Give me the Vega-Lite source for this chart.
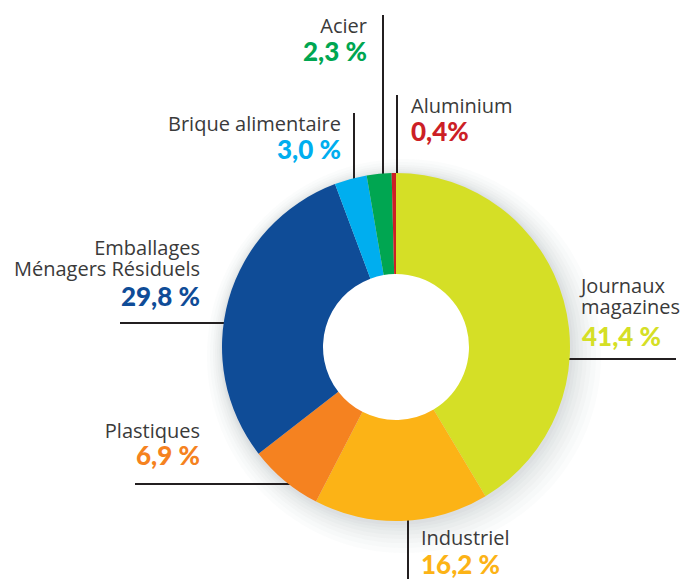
{
  "$schema": "https://vega.github.io/schema/vega-lite/v6.json",
  "width": 689,
  "height": 579,
  "padding": 0,
  "autosize": {"type": "none"},
  "background": "white",
  "config": {"view": {"stroke": null}},
  "datasets": {
    "shares": [
      {"cat": "Journaux magazines", "value": 41.4, "rank": 1},
      {"cat": "Industriel", "value": 16.2, "rank": 2},
      {"cat": "Plastiques", "value": 6.9, "rank": 3},
      {"cat": "Emballages Ménagers Résiduels", "value": 29.8, "rank": 4},
      {"cat": "Brique alimentaire", "value": 3.0, "rank": 5},
      {"cat": "Acier", "value": 2.3, "rank": 6},
      {"cat": "Aluminium", "value": 0.4, "rank": 7}
    ],
    "leaders": [
      {"cat": "Acier", "x": 383, "y": 15, "x2": 383, "y2": 185},
      {"cat": "Aluminium", "x": 397, "y": 95, "x2": 397, "y2": 185},
      {"cat": "Brique alimentaire", "x": 354, "y": 113, "x2": 354, "y2": 185},
      {"cat": "Emballages Ménagers Résiduels", "x": 120, "y": 323, "x2": 230, "y2": 323},
      {"cat": "Journaux magazines", "x": 560, "y": 359, "x2": 676, "y2": 359},
      {"cat": "Plastiques", "x": 135, "y": 484, "x2": 295, "y2": 484},
      {"cat": "Industriel", "x": 408, "y": 512, "x2": 408, "y2": 579}
    ],
    "labels": [
      {"cat": "Acier", "kind": "name", "label": "Acier", "x": 367, "y": 33},
      {"cat": "Acier", "kind": "pct", "label": "2,3 %", "x": 367, "y": 61},
      {"cat": "Aluminium", "kind": "name", "label": "Aluminium", "x": 411, "y": 113},
      {"cat": "Aluminium", "kind": "pct", "label": "0,4%", "x": 411, "y": 141},
      {"cat": "Brique alimentaire", "kind": "name", "label": "Brique alimentaire", "x": 341, "y": 131},
      {"cat": "Brique alimentaire", "kind": "pct", "label": "3,0 %", "x": 341, "y": 159},
      {"cat": "Emballages Ménagers Résiduels", "kind": "name", "label": "Emballages", "x": 200, "y": 255},
      {"cat": "Emballages Ménagers Résiduels", "kind": "name", "label": "Ménagers Résiduels", "x": 200, "y": 276},
      {"cat": "Emballages Ménagers Résiduels", "kind": "pct", "label": "29,8 %", "x": 200, "y": 306},
      {"cat": "Journaux magazines", "kind": "name", "label": "Journaux", "x": 581, "y": 293},
      {"cat": "Journaux magazines", "kind": "name", "label": "magazines", "x": 581, "y": 314},
      {"cat": "Journaux magazines", "kind": "pct", "label": "41,4 %", "x": 582, "y": 346},
      {"cat": "Plastiques", "kind": "name", "label": "Plastiques", "x": 200, "y": 438},
      {"cat": "Plastiques", "kind": "pct", "label": "6,9 %", "x": 200, "y": 465},
      {"cat": "Industriel", "kind": "name", "label": "Industriel", "x": 421, "y": 545},
      {"cat": "Industriel", "kind": "pct", "label": "16,2 %", "x": 421, "y": 574}
    ]
  },
  "layer": [
    {
      "data": {"name": "shares"},
      "transform": [{"aggregate": [{"op": "sum", "field": "value", "as": "total"}]}],
      "mark": {"type": "arc", "innerRadius": 0, "outerRadius": 197, "color": "#8a9099", "opacity": 0.03},
      "encoding": {
        "theta": {"field": "total", "type": "quantitative"},
        "x": {"datum": 404, "type": "quantitative", "scale": {"domain": [0, 689], "nice": false, "zero": false}, "axis": null},
        "y": {"datum": 356, "type": "quantitative", "scale": {"domain": [0, 579], "nice": false, "zero": false, "reverse": true}, "axis": null}
      }
    },
    {
      "data": {"name": "shares"},
      "transform": [{"aggregate": [{"op": "sum", "field": "value", "as": "total"}]}],
      "mark": {"type": "arc", "innerRadius": 0, "outerRadius": 193, "color": "#8a9099", "opacity": 0.03},
      "encoding": {
        "theta": {"field": "total", "type": "quantitative"},
        "x": {"datum": 403, "type": "quantitative"},
        "y": {"datum": 355, "type": "quantitative"}
      }
    },
    {
      "data": {"name": "shares"},
      "transform": [{"aggregate": [{"op": "sum", "field": "value", "as": "total"}]}],
      "mark": {"type": "arc", "innerRadius": 0, "outerRadius": 189, "color": "#8a9099", "opacity": 0.035},
      "encoding": {
        "theta": {"field": "total", "type": "quantitative"},
        "x": {"datum": 402, "type": "quantitative"},
        "y": {"datum": 354, "type": "quantitative"}
      }
    },
    {
      "data": {"name": "shares"},
      "transform": [{"aggregate": [{"op": "sum", "field": "value", "as": "total"}]}],
      "mark": {"type": "arc", "innerRadius": 0, "outerRadius": 186, "color": "#8a9099", "opacity": 0.035},
      "encoding": {
        "theta": {"field": "total", "type": "quantitative"},
        "x": {"datum": 401, "type": "quantitative"},
        "y": {"datum": 353, "type": "quantitative"}
      }
    },
    {
      "data": {"name": "shares"},
      "transform": [{"aggregate": [{"op": "sum", "field": "value", "as": "total"}]}],
      "mark": {"type": "arc", "innerRadius": 0, "outerRadius": 183, "color": "#8a9099", "opacity": 0.04},
      "encoding": {
        "theta": {"field": "total", "type": "quantitative"},
        "x": {"datum": 400, "type": "quantitative"},
        "y": {"datum": 352, "type": "quantitative"}
      }
    },
    {
      "data": {"name": "shares"},
      "transform": [{"aggregate": [{"op": "sum", "field": "value", "as": "total"}]}],
      "mark": {"type": "arc", "innerRadius": 0, "outerRadius": 180, "color": "#8a9099", "opacity": 0.04},
      "encoding": {
        "theta": {"field": "total", "type": "quantitative"},
        "x": {"datum": 399, "type": "quantitative"},
        "y": {"datum": 351, "type": "quantitative"}
      }
    },
    {
      "data": {"name": "shares"},
      "transform": [{"aggregate": [{"op": "sum", "field": "value", "as": "total"}]}],
      "mark": {"type": "arc", "innerRadius": 0, "outerRadius": 178, "color": "#8a9099", "opacity": 0.045},
      "encoding": {
        "theta": {"field": "total", "type": "quantitative"},
        "x": {"datum": 398, "type": "quantitative"},
        "y": {"datum": 350, "type": "quantitative"}
      }
    },
    {
      "data": {"name": "shares"},
      "transform": [{"aggregate": [{"op": "sum", "field": "value", "as": "total"}]}],
      "mark": {"type": "arc", "innerRadius": 0, "outerRadius": 176, "color": "#8a9099", "opacity": 0.05},
      "encoding": {
        "theta": {"field": "total", "type": "quantitative"},
        "x": {"datum": 397, "type": "quantitative"},
        "y": {"datum": 349, "type": "quantitative"}
      }
    },
    {
      "data": {"name": "leaders"},
      "mark": {"type": "rule", "color": "#231f20", "strokeWidth": 2},
      "encoding": {
        "x": {"field": "x", "type": "quantitative"},
        "y": {"field": "y", "type": "quantitative"},
        "x2": {"field": "x2"},
        "y2": {"field": "y2"}
      }
    },
    {
      "data": {"name": "shares"},
      "mark": {"type": "arc", "innerRadius": 0, "outerRadius": 74, "color": "white"},
      "transform": [{"aggregate": [{"op": "sum", "field": "value", "as": "total"}]}],
      "encoding": {
        "theta": {"field": "total", "type": "quantitative"},
        "x": {"datum": 396, "type": "quantitative"},
        "y": {"datum": 347, "type": "quantitative"}
      }
    },
    {
      "data": {"name": "shares"},
      "mark": {"type": "arc", "innerRadius": 73, "outerRadius": 174},
      "encoding": {
        "theta": {"field": "value", "type": "quantitative", "stack": true},
        "order": {"field": "rank"},
        "color": {
          "field": "cat",
          "type": "nominal",
          "scale": {
            "domain": ["Journaux magazines", "Industriel", "Plastiques", "Emballages Ménagers Résiduels", "Brique alimentaire", "Acier", "Aluminium"],
            "range": ["#d5df26", "#fcb316", "#f58220", "#0f4c97", "#00aeef", "#00a651", "#cc1f26"]
          },
          "legend": null
        },
        "x": {"datum": 396, "type": "quantitative"},
        "y": {"datum": 347, "type": "quantitative"}
      }
    },
    {
      "data": {"name": "labels"},
      "transform": [
        {"filter": {"field": "kind", "equal": "name"}},
        {"filter": {"field": "cat", "oneOf": ["Acier", "Brique alimentaire", "Emballages Ménagers Résiduels", "Plastiques"]}}
      ],
      "mark": {"type": "text", "align": "right", "baseline": "alphabetic", "font": "Open Sans", "fontSize": 20, "color": "#3a3a3a"},
      "encoding": {
        "x": {"field": "x", "type": "quantitative"},
        "y": {"field": "y", "type": "quantitative"},
        "text": {"field": "label"}
      }
    },
    {
      "data": {"name": "labels"},
      "transform": [
        {"filter": {"field": "kind", "equal": "name"}},
        {"filter": {"field": "cat", "oneOf": ["Aluminium", "Journaux magazines", "Industriel"]}}
      ],
      "mark": {"type": "text", "align": "left", "baseline": "alphabetic", "font": "Open Sans", "fontSize": 20, "color": "#3a3a3a"},
      "encoding": {
        "x": {"field": "x", "type": "quantitative"},
        "y": {"field": "y", "type": "quantitative"},
        "text": {"field": "label"}
      }
    },
    {
      "data": {"name": "labels"},
      "transform": [
        {"filter": {"field": "kind", "equal": "pct"}},
        {"filter": {"field": "cat", "oneOf": ["Acier", "Brique alimentaire", "Emballages Ménagers Résiduels", "Plastiques"]}}
      ],
      "mark": {"type": "text", "align": "right", "baseline": "alphabetic", "font": "Lato", "fontWeight": 900, "fontSize": 26},
      "encoding": {
        "x": {"field": "x", "type": "quantitative"},
        "y": {"field": "y", "type": "quantitative"},
        "text": {"field": "label"},
        "color": {"field": "cat", "type": "nominal"}
      }
    },
    {
      "data": {"name": "labels"},
      "transform": [
        {"filter": {"field": "kind", "equal": "pct"}},
        {"filter": {"field": "cat", "oneOf": ["Aluminium", "Journaux magazines", "Industriel"]}}
      ],
      "mark": {"type": "text", "align": "left", "baseline": "alphabetic", "font": "Lato", "fontWeight": 900, "fontSize": 26},
      "encoding": {
        "x": {"field": "x", "type": "quantitative"},
        "y": {"field": "y", "type": "quantitative"},
        "text": {"field": "label"},
        "color": {"field": "cat", "type": "nominal"}
      }
    }
  ]
}
